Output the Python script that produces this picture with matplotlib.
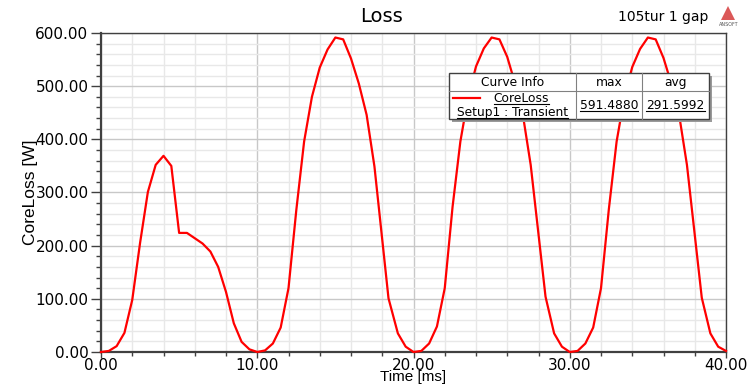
import matplotlib
matplotlib.use('Agg')
import matplotlib.pyplot as plt
from matplotlib.patches import Rectangle, Polygon
from matplotlib.lines import Line2D
from matplotlib.ticker import MultipleLocator, FormatStrFormatter

plt.rcParams['font.family'] = ['DejaVu Sans']

# time [ms] and core loss [W]
time_ms = [0.0, 0.5, 1.0, 1.5, 2.0, 2.5, 3.0, 3.5, 4.0, 4.5, 5.0, 5.5, 6.0, 6.5,
           7.0, 7.5, 8.0, 8.5, 9.0, 9.5, 10.0,
           10.5, 11.0, 11.5, 12.0, 12.5, 13.0, 13.5, 14.0, 14.5, 15.0, 15.5,
           16.0, 16.5, 17.0, 17.5, 18.4, 19.0, 19.5, 20.0,
           20.5, 21.0, 21.5, 22.0, 22.5, 23.0, 23.5, 24.0, 24.5, 25.0, 25.5,
           26.0, 26.5, 27.0, 27.5, 28.45, 29.0, 29.5, 30.0,
           30.5, 31.0, 31.5, 32.0, 32.5, 33.0, 33.5, 34.0, 34.5, 35.0, 35.5,
           36.0, 36.5, 37.0, 37.5, 38.45, 39.0, 39.5, 40.0]
core_loss = [0, 2, 11, 36, 98, 205, 301, 352, 369, 350, 224, 224, 214, 204,
             189, 160, 113, 54, 19, 5, 0,
             3, 16, 46, 120, 267, 396, 480, 535, 569, 591.5, 588,
             552, 505, 446, 349, 101, 35, 10, 0,
             2, 16, 48, 120, 273, 396, 480, 537, 571, 591.5, 588,
             555, 505, 446, 352, 104, 35, 10, 0,
             2, 16, 46, 120, 268, 396, 480, 536, 570, 591.5, 588,
             553, 505, 446, 352, 102, 35, 10, 2]

info_header = ['Curve Info', 'max', 'avg']
curve_name = ['CoreLoss', 'Setup1 : Transient']
curve_max = '591.4880'
curve_avg = '291.5992'

fig = plt.figure(figsize=(7.47, 3.85), dpi=100)
ax = fig.add_axes([101/747, 1-352/385, 625/747, 319/385])

ax.plot(time_ms, core_loss, color='#ff0000', lw=1.6, zorder=3, clip_on=False)

ax.set_xlim(0, 40)
ax.set_ylim(0, 600)
ax.xaxis.set_major_locator(MultipleLocator(10))
ax.xaxis.set_minor_locator(MultipleLocator(2))
ax.yaxis.set_major_locator(MultipleLocator(100))
ax.yaxis.set_minor_locator(MultipleLocator(20))
ax.xaxis.set_major_formatter(FormatStrFormatter('%.2f'))
ax.yaxis.set_major_formatter(FormatStrFormatter('%.2f'))

ax.grid(which='major', color='#c8c8c8', lw=1.0, zorder=0)
ax.grid(which='minor', color='#e8e8e8', lw=1.0, zorder=0)
ax.set_axisbelow(True)

for s in ax.spines.values():
    s.set_color('#404040')
    s.set_linewidth(1.0)
ax.spines['left'].set_linewidth(1.6)
ax.spines['bottom'].set_linewidth(1.6)

ax.tick_params(axis='y', which='major', length=7, width=1.0, color='#404040',
               labelsize=11, pad=2)
ax.tick_params(axis='y', which='minor', length=3.6, width=1.0, color='#404040')
ax.tick_params(axis='x', which='major', length=4, width=1.0, color='#404040',
               labelsize=11, pad=0.5)
ax.tick_params(axis='x', which='minor', length=3, width=1.0, color='#404040')

ax.set_xlabel('Time [ms]', fontsize=11, family='Liberation Sans', va='bottom')
ax.xaxis.set_label_coords(0.5, (352 - 384) / 319)
ax.set_ylabel('CoreLoss [W]', fontsize=12.5, labelpad=-2, family='Liberation Sans')

fig.text(382/747, 1-16/385, 'Loss', ha='center', va='center', fontsize=14)
fig.text(663/747, 1-17/385, '105tur 1 gap', ha='center', va='center', fontsize=10)

# small ANSOFT logo
fig.patches.append(Polygon([[721/747, 1-20/385], [735/747, 1-20/385], [728/747, 1-6/385]],
                           closed=True, transform=fig.transFigure, facecolor='#d02020',
                           edgecolor='none', alpha=0.75))
fig.text(729/747, 1-24/385, 'ANSOFT', ha='center', va='center', fontsize=3.5, color='#555555')

# curve info box (axes fraction coordinates)
x0, x1, x2, x3 = 0.557, 0.760, 0.8656, 0.973
y0, y1, y2 = 0.730, 0.818, 0.8746
ax.add_patch(Rectangle((x0 + 0.004, y0 - 0.009), x3 - x0, y2 - y0, transform=ax.transAxes,
                       facecolor='#9a9a9a', edgecolor='none', zorder=4))
ax.add_patch(Rectangle((x0, y0), x3 - x0, y2 - y0, transform=ax.transAxes,
                       facecolor='white', edgecolor='#404040', lw=1.0, zorder=5))
for xx in (x1, x2):
    ax.plot([xx, xx], [y0, y2], transform=ax.transAxes, color='#808080', lw=0.8, zorder=6)
ax.plot([x0, x3], [y1, y1], transform=ax.transAxes, color='#808080', lw=0.8, zorder=6)

fs = 8.8
ax.text((x0 + x1) / 2, (y1 + y2) / 2, info_header[0], transform=ax.transAxes,
        ha='center', va='center', fontsize=fs, zorder=7)
ax.text((x1 + x2) / 2, (y1 + y2) / 2, info_header[1], transform=ax.transAxes,
        ha='center', va='center', fontsize=fs, zorder=7)
ax.text((x2 + x3) / 2, (y1 + y2) / 2, info_header[2], transform=ax.transAxes,
        ha='center', va='center', fontsize=fs, zorder=7)

under = []
under.append(ax.text(0.673, 0.795, curve_name[0], transform=ax.transAxes,
                     ha='center', va='center', fontsize=fs, zorder=7))
under.append(ax.text((x0 + x1) / 2, 0.752, curve_name[1], transform=ax.transAxes,
                     ha='center', va='center', fontsize=fs, zorder=7))
under.append(ax.text((x1 + x2) / 2, 0.772, curve_max, transform=ax.transAxes,
                     ha='center', va='center', fontsize=fs, zorder=7))
under.append(ax.text((x2 + x3) / 2, 0.772, curve_avg, transform=ax.transAxes,
                     ha='center', va='center', fontsize=fs, zorder=7))
ax.plot([0.564, 0.607], [0.795, 0.795], transform=ax.transAxes, color='#ff0000',
        lw=1.6, zorder=7)

fig.canvas.draw()
inv = fig.transFigure.inverted()
for t in under:
    bb = t.get_window_extent()
    (a, b) = inv.transform((bb.x0, bb.y0 + 1))
    (c, d) = inv.transform((bb.x1, bb.y0 + 1))
    fig.lines.append(Line2D([a, c], [b, d], transform=fig.transFigure,
                            color='black', lw=0.8, zorder=8))

fig.savefig('out.png', dpi=100)
